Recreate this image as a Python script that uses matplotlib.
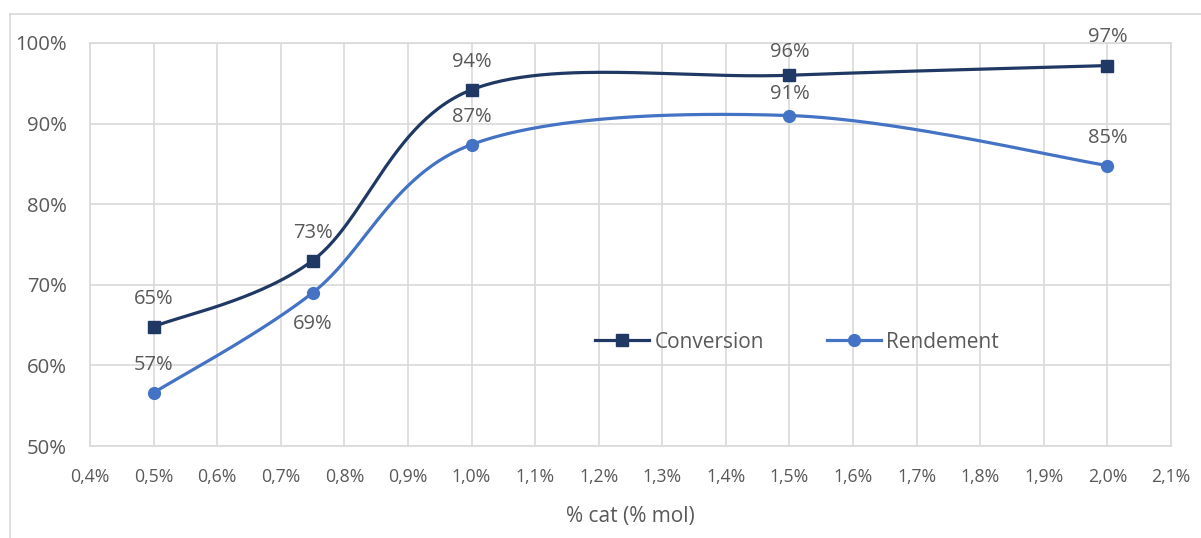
import numpy as np
import matplotlib
matplotlib.use('Agg')
from matplotlib import pyplot as plt
from matplotlib.lines import Line2D

# Données
cat = [0.5, 0.75, 1.0, 1.5, 2.0]
conversion = [64.8, 73.0, 94.2, 96.0, 97.2]
rendement = [56.6, 69.0, 87.4, 91.0, 84.8]
conv_labels = ['65%', '73%', '94%', '96%', '97%']
rend_labels = ['57%', '69%', '87%', '91%', '85%']
x_ticks = [0.4 + 0.1 * i for i in range(18)]
y_ticks = [50, 60, 70, 80, 90, 100]

# décalage vertical des étiquettes (points, ligne de base)
conv_off = [16.4, 16.4, 16.4, 12.8, 17.1]
rend_off = [16.4, -25.7, 16.4, 12.1, 16.4]

plt.rcParams['font.family'] = ['Open Sans', 'DejaVu Sans']
grey_txt = '#595959'
grid_col = '#d9d9d9'
c_conv = '#203864'
c_rend = '#4472C4'


def smooth(xs, ys, n=60):
    # lissage type Excel (Bezier / Catmull-Rom)
    pts = np.column_stack([xs, ys]).astype(float)
    out = []
    for i in range(len(pts) - 1):
        p0 = pts[i - 1] if i > 0 else pts[i]
        p1 = pts[i]
        p2 = pts[i + 1]
        p3 = pts[i + 2] if i + 2 < len(pts) else pts[i + 1]
        c1 = p1 + (p2 - p0) / 6
        c2 = p2 - (p3 - p1) / 6
        t = np.linspace(0, 1, n)[:, None]
        seg = ((1 - t) ** 3) * p1 + 3 * ((1 - t) ** 2) * t * c1 + 3 * (1 - t) * t ** 2 * c2 + t ** 3 * p2
        out.append(seg)
    out = np.vstack(out)
    return out[:, 0], out[:, 1]


fig = plt.figure(figsize=(12.01, 5.38), dpi=100)
ax = fig.add_axes([90 / 1201, 92 / 538, 1081 / 1201, 403 / 538])

# cadre de la zone de graphique
fig.add_artist(Line2D([10 / 1201, 10 / 1201], [0, 1 - 14 / 538], color=grid_col, lw=1.2))
fig.add_artist(Line2D([10 / 1201, 1], [1 - 14 / 538, 1 - 14 / 538], color=grid_col, lw=1.2))

sx, sy = smooth(cat, conversion)
ax.plot(sx, sy, color=c_conv, lw=2.3, zorder=3)
ax.plot(cat, conversion, ls='none', marker='s', ms=8.5, color=c_conv, zorder=4)
sx, sy = smooth(cat, rendement)
ax.plot(sx, sy, color=c_rend, lw=2.3, zorder=3)
ax.plot(cat, rendement, ls='none', marker='o', ms=8.5, color=c_rend, zorder=4)

for x, y, s, o in zip(cat, conversion, conv_labels, conv_off):
    ax.annotate(s, (x, y), xytext=(0, o), textcoords='offset points',
                ha='center', va='baseline', fontsize=14.5, color=grey_txt)
for x, y, s, o in zip(cat, rendement, rend_labels, rend_off):
    ax.annotate(s, (x, y), xytext=(0, o), textcoords='offset points',
                ha='center', va='baseline', fontsize=14.5, color=grey_txt)

ax.set_xlim(0.4, 2.1)
ax.set_ylim(50, 100)
ax.set_xticks(x_ticks)
ax.set_xticklabels([('%.1f%%' % v).replace('.', ',') for v in x_ticks])
ax.set_yticks(y_ticks)
ax.set_yticklabels(['%d%%' % v for v in y_ticks])
ax.tick_params(axis='x', length=0, pad=15.5, labelsize=12.7, colors=grey_txt)
ax.tick_params(axis='y', length=0, pad=16.5, labelsize=14.6, colors=grey_txt)
ax.grid(True, color=grid_col, lw=1.2)
ax.set_axisbelow(True)
for sp in ax.spines.values():
    sp.set_color(grid_col)
    sp.set_linewidth(1.2)

ax.set_xlabel('% cat (% mol)', fontsize=15, color=grey_txt, labelpad=15)

handles = [Line2D([], [], color=c_conv, lw=2.3, marker='s', ms=8.5),
           Line2D([], [], color=c_rend, lw=2.3, marker='o', ms=8.5)]
ax.legend(handles, ['Conversion', 'Rendement'], loc='center', bbox_to_anchor=(0.654, 0.258),
          ncol=2, frameon=False, fontsize=15, labelcolor=grey_txt,
          handlelength=2.6, handletextpad=0.25, columnspacing=3.0)

fig.savefig('out.png', dpi=100)
